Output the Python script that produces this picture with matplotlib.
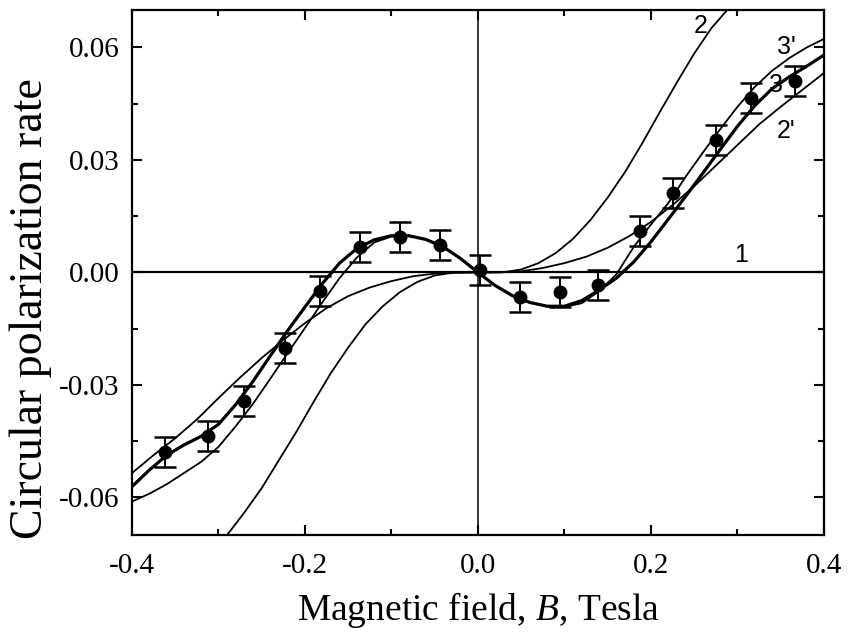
import numpy as np
import matplotlib
matplotlib.use("Agg")
import matplotlib.pyplot as plt
from matplotlib.ticker import MultipleLocator

plt.rcParams['font.family'] = ['Liberation Serif', 'DejaVu Serif']
plt.rcParams['mathtext.fontset'] = 'custom'
plt.rcParams['mathtext.rm'] = 'Liberation Serif'
plt.rcParams['mathtext.it'] = 'Liberation Serif:italic'
plt.rcParams['axes.unicode_minus'] = False

# measured points with error bars
B_meas = [-0.362, -0.312, -0.271, -0.223, -0.183, -0.136, -0.090, -0.044, 0.002,
          0.049, 0.095, 0.139, 0.187, 0.225, 0.275, 0.316, 0.366]
P_meas = [-0.0478, -0.0436, -0.0343, -0.0202, -0.0049, 0.0069, 0.0094, 0.0073, 0.0007,
          -0.0065, -0.0052, -0.0033, 0.0110, 0.0212, 0.0354, 0.0465, 0.0510]
P_err = [0.004] * 17

# curve 2 (steep)
B_c2 = [-0.30, -0.29, -0.27, -0.25, -0.23, -0.21, -0.19, -0.17, -0.15, -0.13, -0.11, -0.09,
        -0.07, -0.05, -0.03, 0.0, 0.03, 0.05, 0.07, 0.09, 0.11, 0.13, 0.15, 0.17, 0.19,
        0.21, 0.23, 0.25, 0.27, 0.29, 0.30]
P_c2 = [-0.0730, -0.0700, -0.0640, -0.0575, -0.0500, -0.0425, -0.0345, -0.0268, -0.0200,
        -0.0138, -0.0090, -0.0052, -0.0025, -0.0008, -0.0001, 0.0, 0.0001, 0.0008, 0.0025,
        0.0052, 0.0090, 0.0140, 0.0200, 0.0268, 0.0345, 0.0427, 0.0507, 0.0584, 0.0652,
        0.0705, 0.0730]

# curve 2'
B_c2p = [-0.4, -0.375, -0.35, -0.325, -0.3, -0.275, -0.25, -0.225, -0.2, -0.175, -0.15,
         -0.125, -0.1, -0.075, -0.05, -0.025, 0.0, 0.025, 0.05, 0.075, 0.1, 0.125, 0.15,
         0.175, 0.2, 0.225, 0.25, 0.275, 0.3, 0.325, 0.35, 0.375, 0.4]
P_c2p = [-0.0535, -0.0487, -0.0442, -0.0392, -0.0335, -0.0280, -0.0228, -0.0180, -0.0135,
         -0.0095, -0.0063, -0.0040, -0.0023, -0.0010, -0.0003, 0.0, 0.0, 0.0, 0.0003, 0.0012,
         0.0025, 0.0042, 0.0066, 0.0097, 0.0135, 0.0180, 0.0230, 0.0285, 0.0340, 0.0395,
         0.0442, 0.0487, 0.0532]

# curve 3 (thick, through the data) and curve 3', same B grid
B_c3 = [-0.4, -0.38, -0.36, -0.34, -0.32, -0.30, -0.28, -0.26, -0.24, -0.22, -0.20, -0.18,
        -0.16, -0.14, -0.12, -0.10, -0.08, -0.06, -0.04, -0.02, 0.0, 0.02, 0.04, 0.06, 0.08,
        0.10, 0.12, 0.14, 0.16, 0.18, 0.20, 0.22, 0.24, 0.26, 0.28, 0.30, 0.32, 0.34, 0.36,
        0.38, 0.40]
P_c3 = [-0.0571, -0.0527, -0.0488, -0.0460, -0.0437, -0.0405, -0.0352, -0.0290, -0.0222,
        -0.0155, -0.0092, -0.0030, 0.0025, 0.0064, 0.0087, 0.0098, 0.0098, 0.0088, 0.0068,
        0.0037, 0.0, -0.0035, -0.0062, -0.0080, -0.0090, -0.0090, -0.0075, -0.0047, -0.0015,
        0.0028, 0.0082, 0.0142, 0.0203, 0.0265, 0.0328, 0.0390, 0.0445, 0.0490, 0.0522,
        0.0550, 0.0580]
B_c3p = B_c3
P_c3p = [-0.0611, -0.0590, -0.0565, -0.0535, -0.0505, -0.0465, -0.0410, -0.0350, -0.0283,
         -0.0215, -0.0148, -0.0080, -0.0015, 0.0040, 0.0080, 0.0096, 0.0098, 0.0088, 0.0068,
         0.0037, 0.0, -0.0035, -0.0062, -0.0080, -0.0090, -0.0092, -0.0082, -0.0050, -0.0005,
         0.0068, 0.0128, 0.0185, 0.0255, 0.0320, 0.0382, 0.0442, 0.0495, 0.0538, 0.0572,
         0.0600, 0.0623]

# curve labels
lab_text = ["1", "2", "3'", "3", "2'"]
lab_x = [0.304, 0.258, 0.356, 0.344, 0.356]
lab_y = [0.0046, 0.0657, 0.0600, 0.0500, 0.0377]

fig = plt.figure(figsize=(8.53, 6.40), dpi=100)
ax = fig.add_axes([0.1547, 0.1641, 0.8113, 0.8203])

ax.axhline(0, color='black', lw=1.6, zorder=2)   # curve 1
ax.axvline(0, color='black', lw=1.1, zorder=2)

ax.plot(B_c2, P_c2, color='black', lw=1.3)
ax.plot(B_c2p, P_c2p, color='black', lw=1.3)
ax.plot(B_c3p, P_c3p, color='black', lw=1.3)
ax.plot(B_c3, P_c3, color='black', lw=2.3)

ax.errorbar(B_meas, P_meas, yerr=P_err, fmt='o', color='black', ms=9,
            capsize=8, capthick=1.8, elinewidth=1.4, zorder=5)

for t, x, y in zip(lab_text, lab_x, lab_y):
    ax.text(x, y, t, fontsize=18, ha='center', va='center',
            family=['Liberation Sans', 'DejaVu Sans'])

ax.set_xlim(-0.4, 0.4)
ax.set_ylim(-0.07, 0.07)
ax.xaxis.set_major_locator(MultipleLocator(0.2))
ax.xaxis.set_minor_locator(MultipleLocator(0.1))
ax.yaxis.set_major_locator(MultipleLocator(0.03))
ax.yaxis.set_minor_locator(MultipleLocator(0.015))
ax.xaxis.set_major_formatter(plt.FuncFormatter(lambda v, p: "%.1f" % v))
ax.yaxis.set_major_formatter(plt.FuncFormatter(lambda v, p: "%.2f" % v))

ax.tick_params(which='both', direction='in', top=True, right=True, width=1.5)
ax.tick_params(which='major', length=7.5, labelsize=21)
ax.tick_params(axis='x', which='major', pad=13)
ax.tick_params(axis='y', which='major', pad=9)
ax.tick_params(which='minor', length=4)
for s in ax.spines.values():
    s.set_linewidth(1.6)

ax.set_xlabel("Magnetic field, $B$, Tesla", fontsize=27, labelpad=8)
ax.set_ylabel("Circular polarization rate", fontsize=33)
ax.yaxis.set_label_coords(-0.115, 0.432)

fig.savefig("out.png", dpi=100)
